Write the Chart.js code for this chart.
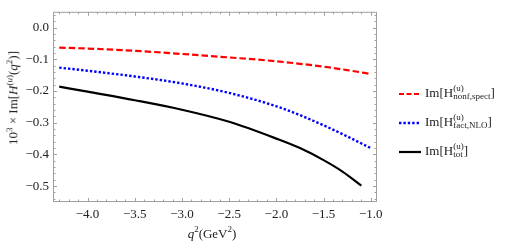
<!DOCTYPE html>
<html>
<head>
<meta charset="utf-8">
<script src="https://cdn.jsdelivr.net/npm/chart.js@4.4.1/dist/chart.umd.min.js"></script>
<style>
  body { margin: 0; background: #fff; }
  #wrap { position: relative; width: 506px; height: 247px; font-family: "Liberation Serif", serif; color: #222; }
  canvas { position: absolute; left: 0; top: 0; }
  .ytitle {
    position: absolute; left: 13px; top: 98px; white-space: nowrap; font-size: 13px;
    transform: translate(-50%, -50%) rotate(-90deg);
  }
  .xtitle { position: absolute; left: 212px; top: 233px; transform: translate(-50%, -50%); font-size: 13px; white-space: nowrap; }
  .legend { position: absolute; left: 398px; top: 0; font-size: 13px; }
  .row { position: absolute; left: 0; height: 0; white-space: nowrap; }
  .row svg { position: absolute; left: 0; top: -3px; }
  .row .txt { position: absolute; left: 27px; top: -9px; line-height: 16px; }
  .stack { display: inline-block; vertical-align: middle; line-height: 8px; font-size: 9px; margin-top: -4px; }
  .stack span { display: block; }
</style>
</head>
<body>
<div id="wrap">
  <canvas id="chart" width="506" height="247"></canvas>
  <div class="ytitle">10<sup style="font-size:9px">3</sup> × Im[<i>H</i><sup style="font-size:9px">(<i>u</i>)</sup>(<i>q</i><sup style="font-size:9px">2</sup>)]</div>
  <div class="xtitle"><i>q</i><sup style="font-size:9px">2</sup>(GeV<sup style="font-size:9px">2</sup>)</div>
  <div class="legend">
    <div class="row" style="top:94px">
      <svg width="24" height="6"><line x1="1" y1="3" x2="23" y2="3" stroke="#ff0000" stroke-width="2.2" stroke-dasharray="5,2.5"/></svg>
      <span class="txt">Im[H<span class="stack"><span>(u)</span><span>nonf,spect</span></span>]</span>
    </div>
    <div class="row" style="top:123px">
      <svg width="24" height="6"><line x1="1" y1="3" x2="23" y2="3" stroke="#0000ff" stroke-width="2.4" stroke-dasharray="2.4,2"/></svg>
      <span class="txt">Im[H<span class="stack"><span>(u)</span><span>fact,NLO</span></span>]</span>
    </div>
    <div class="row" style="top:152px">
      <svg width="24" height="6"><line x1="1" y1="3" x2="23" y2="3" stroke="#000" stroke-width="2.2"/></svg>
      <span class="txt">Im[H<span class="stack"><span>(u)</span><span>tot</span></span>]</span>
    </div>
  </div>
</div>
<script>
// q^2 sample points (GeV^2)
const qGrid = [-4.3, -4.0, -3.5, -3.0, -2.5, -2.0, -1.75, -1.5, -1.25, -1.0];
const qTot = [-4.3, -4.0, -3.5, -3.0, -2.5, -2.0, -1.75, -1.5, -1.3, -1.1];

// 10^3 x Im[H^(u)]
const nonfSpect = [-0.063, -0.066, -0.073, -0.083, -0.094, -0.106, -0.114, -0.123, -0.134, -0.146];
const factNLO = [-0.126, -0.136, -0.154, -0.176, -0.206, -0.248, -0.276, -0.308, -0.343, -0.380];
const total = [-0.186, -0.202, -0.229, -0.259, -0.297, -0.350, -0.380, -0.418, -0.454, -0.498];

const xTicks = [-4.0, -3.5, -3.0, -2.5, -2.0, -1.5, -1.0];
const yTicks = [0.0, -0.1, -0.2, -0.3, -0.4, -0.5];

const fmt = v => v.toFixed(1).replace("-", "\u2212");
const pts = (xs, ys) => xs.map((x, i) => ({ x: x, y: ys[i] }));

// frame with inward ticks, mathematica style
const frameTicks = {
  id: "frameTicks",
  afterDatasetsDraw(chart) {
    const { ctx, chartArea: a, scales } = chart;
    const xs = scales.x, ys = scales.y;
    ctx.save();
    ctx.strokeStyle = "#a0a0a0";
    ctx.lineWidth = 1;
    ctx.strokeRect(a.left + 0.5, a.top + 0.5, a.right - a.left - 1, a.bottom - a.top - 1);
    ctx.beginPath();
    for (let i = -44; i <= -9; i++) {
      const v = i / 10;
      const px = Math.round(xs.getPixelForValue(v)) + 0.5;
      if (px < a.left || px > a.right) continue;
      const len = (i % 5 === 0) ? 4 : 2.5;
      ctx.moveTo(px, a.bottom); ctx.lineTo(px, a.bottom - len);
      ctx.moveTo(px, a.top); ctx.lineTo(px, a.top + len);
    }
    for (let i = -28; i <= 3; i++) {
      const v = i / 50;
      const py = Math.round(ys.getPixelForValue(v)) + 0.5;
      if (py < a.top || py > a.bottom) continue;
      const len = (i % 5 === 0) ? 4 : 2.5;
      ctx.moveTo(a.left, py); ctx.lineTo(a.left + len, py);
      ctx.moveTo(a.right, py); ctx.lineTo(a.right - len, py);
    }
    ctx.stroke();
    ctx.restore();
  }
};

const tickFont = { family: "'Liberation Serif', serif", size: 13 };

new Chart(document.getElementById("chart"), {
  type: "line",
  data: {
    datasets: [
      {
        label: "nonf,spect",
        data: pts(qGrid, nonfSpect),
        borderColor: "#ff0000",
        borderWidth: 2.2,
        borderDash: [6.5, 3],
      },
      {
        label: "fact,NLO",
        data: pts(qGrid, factNLO),
        borderColor: "#0000ff",
        borderWidth: 2.4,
        borderDash: [2.4, 2],
      },
      {
        label: "tot",
        data: pts(qTot, total),
        borderColor: "#000000",
        borderWidth: 2.2,
      }
    ]
  },
  options: {
    responsive: false,
    animation: false,
    layout: { padding: { top: 2, right: 129, left: 0, bottom: 0 } },
    elements: {
      point: { radius: 0 },
      line: { cubicInterpolationMode: "monotone", fill: false }
    },
    scales: {
      x: {
        type: "linear",
        min: -4.366,
        max: -0.934,
        grid: { display: false, drawTicks: false },
        border: { display: false },
        afterBuildTicks: s => { s.ticks = xTicks.map(v => ({ value: v })); },
        afterFit: s => { s.height = 45; },
        ticks: { callback: v => fmt(v), font: tickFont, color: "#222", padding: 5, maxRotation: 0, autoSkip: false }
      },
      y: {
        min: -0.55,
        max: 0.05,
        grid: { display: false, drawTicks: false },
        border: { display: false },
        afterBuildTicks: s => { s.ticks = yTicks.map(v => ({ value: v })); },
        afterFit: s => { s.width = 53; },
        ticks: { callback: v => fmt(v), font: tickFont, color: "#222", padding: 4, autoSkip: false }
      }
    },
    plugins: {
      legend: { display: false },
      tooltip: { enabled: false }
    }
  },
  plugins: [frameTicks]
});
</script>
</body>
</html>
